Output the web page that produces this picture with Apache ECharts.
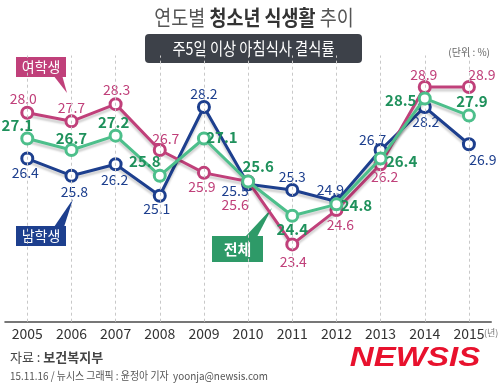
<!DOCTYPE html>
<html><head><meta charset="utf-8">
<script src="https://cdn.jsdelivr.net/npm/echarts@6/dist/echarts.min.js"></script>
<style>html,body{margin:0;padding:0;background:#fff}#c{width:500px;height:390px}</style>
</head><body><div id="c"></div>
<script>
const years = ['2005','2006','2007','2008','2009','2010','2011','2012','2013','2014','2015'];
const girls = [28.0,27.7,28.3,26.7,25.9,25.6,23.4,24.6,26.2,28.9,28.9];
const boys  = [26.4,25.8,26.2,25.1,28.2,25.5,25.3,24.9,26.7,28.2,26.9];
const total = [27.1,26.7,27.2,25.8,27.1,25.6,24.4,24.8,26.4,28.5,27.9];
const seriesNames = ['여학생','남학생','전체'];

// label offsets (style only)
const girlsOff = [[-4,-14],[0,-14],[1,-14],[6,-11],[-2,14],[-13,23],[1,17],[4,15],[4,12],[-1,-12],[13,-12]];
const boysOff  = [[-2,14],[3,16],[-1,15],[-3,13],[0,-13],[-13,6],[0,-13],[-6,-12],[-8,-10],[1,15],[14,15]];
const totalOff = [[-10,-13],[0,-12],[-2,-13],[-15,-14],[18,-1],[10,-15],[0,14],[20,1],[21,3],[-24,2],[3,-14]];

const PINK='#c0407a', BLUE='#1d3f8e', GREEN='#4dbf8b', GREEN_D='#1f915c';
const numFont = "'Liberation Sans Narrow','Noto Sans CJK KR',sans-serif";
const kr = "'Noto Sans CJK KR',sans-serif";

function items(vals, offs){ return vals.map((v,i)=>({value:v,label:{offset:offs[i]}})); }
function mkSeries(name, vals, offs, color, lblColor, bold, z){
  return {
    name, type:'line', data: items(vals, offs), z,
    symbol:'circle', symbolSize:11, showAllSymbol:true,
    itemStyle:{color:'#fff', borderColor:color, borderWidth:3},
    lineStyle:{color, width:3, shadowColor:'rgba(0,0,0,0.18)', shadowOffsetY:3, shadowBlur:2},
    label:{show:true, position:'inside', color:lblColor, fontFamily:numFont,
      fontSize: bold?15:14, fontWeight: bold?'bold':'normal', formatter:p=>p.value.toFixed(1)},
    emphasis:{disabled:true}, animation:false
  };
}

const chart = echarts.init(document.getElementById('c'), null, {renderer:'canvas'});
chart.setOption({
  animation:false,
  grid:{left:5.2, right:9, top:55.5, bottom:68.3},
  xAxis:{type:'category', data:years, boundaryGap:true,
    axisLine:{lineStyle:{color:'#777', width:2}}, axisTick:{show:false},
    axisLabel:{color:'#333', fontSize:14, fontFamily:numFont, margin:5}},
  yAxis:{type:'value', min:20.7, max:30, show:false, splitLine:{show:false}},
  series:[
    {type:'line', data:[], z:1, silent:true,
      markLine:{silent:true, symbol:['none','none'], label:{show:false},
        lineStyle:{color:'#c8c8c8', type:[3,3], width:1}, animation:false,
        data: years.map(y=>({xAxis:y}))}},
    mkSeries(seriesNames[1], boys, boysOff, BLUE, BLUE, false, 3),
    mkSeries(seriesNames[0], girls, girlsOff, PINK, PINK, false, 4),
    mkSeries(seriesNames[2], total, totalOff, GREEN, GREEN_D, true, 5)
  ],
  graphic:[
    {type:'text', x:254, y:17, scaleX:0.88,
      style:{text:'{a|연도별 }{b|청소년 식생활}{a| 추이}', align:'center', verticalAlign:'middle', rich:{
        a:{fontSize:21, fontFamily:kr, fill:'#555'},
        b:{fontSize:21, fontFamily:kr, fontWeight:'bold', fill:'#333'}}}},
    {type:'rect', shape:{x:145, y:34, width:217, height:29, r:4}, style:{fill:'#3d4149'}},
    {type:'text', x:253.5, y:48.5, scaleX:0.84,
      style:{text:'주5일 이상 아침식사 결식률', fontSize:17, fontFamily:kr, fill:'#fff', align:'center', verticalAlign:'middle'}},
    {type:'text', x:490, y:52, style:{text:'(단위 : %)', fontSize:10, fontFamily:kr, fill:'#666', align:'right', verticalAlign:'middle'}},
    // 여학생 box
    {type:'polygon', shape:{points:[[53,75],[62,75],[67,93]]}, style:{fill:PINK}},
    {type:'rect', shape:{x:16, y:57, width:50, height:20}, style:{fill:PINK}},
    {type:'text', x:41, y:67, style:{text:seriesNames[0], fontSize:14, fontFamily:kr, fill:'#fff', align:'center', verticalAlign:'middle'}},
    // 남학생 box
    {type:'polygon', shape:{points:[[54,227],[64,227],[73,199]]}, style:{fill:BLUE}},
    {type:'rect', shape:{x:16, y:226, width:50, height:20}, style:{fill:BLUE}},
    {type:'text', x:41, y:236, style:{text:seriesNames[1], fontSize:14, fontFamily:kr, fill:'#fff', align:'center', verticalAlign:'middle'}},
    // 전체 box
    {type:'polygon', shape:{points:[[245,237],[257,237],[272,208]]}, style:{fill:'#2e9a68'}},
    {type:'rect', shape:{x:212, y:236, width:51, height:26}, style:{fill:'#2e9a68'}},
    {type:'text', x:237.5, y:249, style:{text:seriesNames[2], fontSize:15, fontWeight:'bold', fontFamily:kr, fill:'#fff', align:'center', verticalAlign:'middle'}},
    {type:'text', x:484, y:333, style:{text:'(년)', fontSize:9, fontFamily:kr, fill:'#777', verticalAlign:'middle'}},
    // footer
    {type:'text', x:10, y:357, style:{text:'{a|자료 : }{b|보건복지부}', verticalAlign:'middle', rich:{
      a:{fontSize:13, fontFamily:kr, fill:'#444'}, b:{fontSize:13, fontFamily:kr, fontWeight:'bold', fill:'#444'}}}},
    {type:'text', x:10, y:376, scaleX:0.9,
      style:{text:'15.11.16 / 뉴시스 그래픽 : 윤정아 기자  yoonja@newsis.com', fontSize:11, fontFamily:kr, fill:'#555', verticalAlign:'middle'}},
    {type:'text', x:415, y:358, scaleX:1.18,
      style:{text:'NEWSIS', fontSize:28, fontStyle:'italic', fontWeight:'bold', fontFamily:"'Liberation Sans',Arial,sans-serif",
        fill:'#e8112d', align:'center', verticalAlign:'middle', shadowColor:'rgba(0,0,0,0.35)', shadowOffsetX:2, shadowOffsetY:2, shadowBlur:3}}
  ]
});
</script></body></html>
